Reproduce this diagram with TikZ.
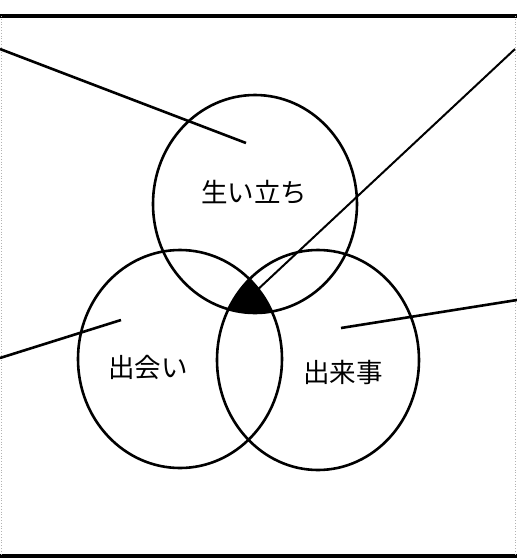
\documentclass[tikz,border=0pt]{standalone}
\usepackage{fontspec}
\newfontfamily\jp{Noto Sans CJK JP}
\usetikzlibrary{shapes.geometric}
\begin{document}
\begin{tikzpicture}[x=1pt,y=-1pt,
  venn/.style={draw=black,line width=2.6pt,ellipse,inner sep=0pt},
  lbl/.style={font=\jp\fontsize{26.5}{26.5}\selectfont,inner sep=0pt},
  pointer/.style={draw=black,line width=2.6pt},
  frameline/.style={draw=black,line width=3.5pt},
  sideline/.style={draw=gray!60,line width=0.8pt,dotted}]
\useasboundingbox (0,0) rectangle (517,558);
\fill[white] (0,0) rectangle (517,558);
% frame
\draw[frameline] (0,16) -- (517,16);
\draw[frameline] (0,556) -- (517,556);
\draw[sideline] (1,16) -- (1,556);
\draw[sideline] (515,16) -- (515,556);
% triple intersection
\begin{scope}
  \clip (255,204) ellipse [x radius=102, y radius=109];
  \clip (180,359) ellipse [x radius=102, y radius=109];
  \clip (318,360) ellipse [x radius=101, y radius=110];
  \fill[black] (150,250) rectangle (350,330);
\end{scope}
% ellipses
\node[venn,minimum width=204,minimum height=218] (top) at (255,204) {};
\node[venn,minimum width=204,minimum height=218] (left) at (180,359) {};
\node[venn,minimum width=202,minimum height=220] (right) at (318,360) {};
% labels
\node[lbl] (t1) at (254,192) {生い立ち};
\node[lbl] (t2) at (148,367) {出会い};
\node[lbl] (t3) at (343,372) {出来事};
% pointer lines
\coordinate (a0) at (0,49);
\coordinate (a1) at (246,143);
\coordinate (b0) at (515,49);
\coordinate (b1) at (254,293);
\coordinate (c0) at (0,358);
\coordinate (c1) at (121,320);
\coordinate (d0) at (517,300);
\coordinate (d1) at (341,328);
\draw[pointer] (a0) -- (a1);
\draw[pointer,line width=2pt] (b0) -- (b1);
\draw[pointer] (c0) -- (c1);
\draw[pointer] (d0) -- (d1);
\end{tikzpicture}
\end{document}
